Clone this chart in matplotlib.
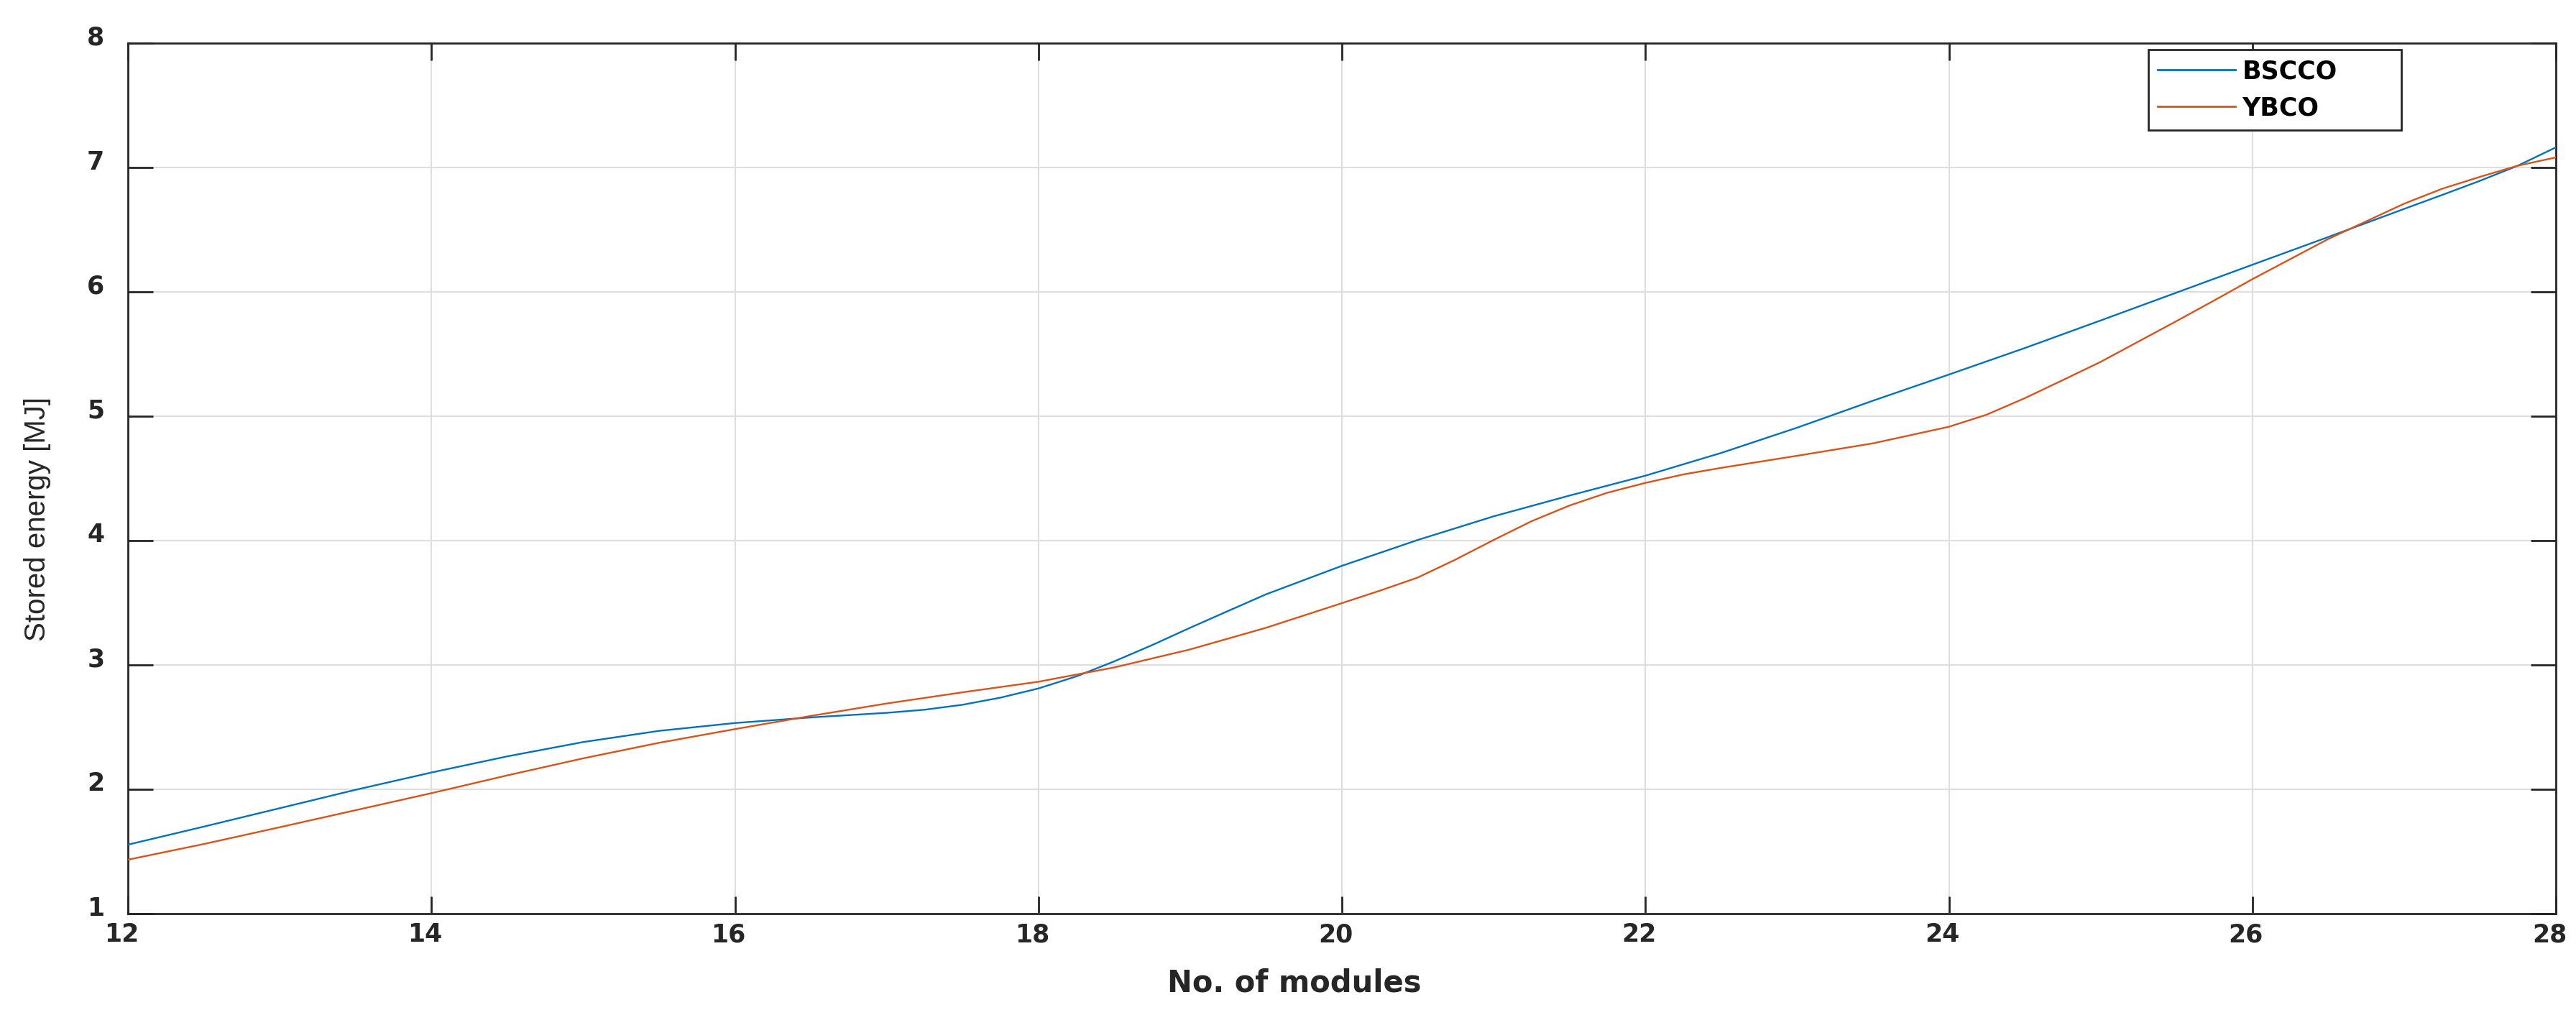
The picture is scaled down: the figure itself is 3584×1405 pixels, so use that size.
import matplotlib
matplotlib.use("Agg")
import matplotlib.pyplot as plt
from matplotlib import font_manager
from matplotlib.transforms import ScaledTranslation

# ---- data ----
modules_b = [12, 12.5, 13, 13.5, 14, 14.5, 15, 15.5, 16, 16.5, 17, 17.25, 17.5,
             17.75, 18, 18.25, 18.5, 18.75, 19, 19.25, 19.5, 20, 20.5, 21, 21.5,
             22, 22.5, 23, 23.5, 24, 24.5, 25, 25.5, 26, 26.5, 27, 27.25, 27.5,
             27.75, 28]
bscco = [1.555, 1.70, 1.848, 1.996, 2.135, 2.265, 2.38, 2.47, 2.533, 2.578,
         2.615, 2.64, 2.68, 2.737, 2.811, 2.908, 3.029, 3.16, 3.299, 3.434,
         3.568, 3.797, 4.005, 4.195, 4.362, 4.522, 4.705, 4.908, 5.125, 5.335,
         5.548, 5.77, 5.994, 6.218, 6.441, 6.667, 6.779, 6.893, 7.015, 7.162]
modules_y = [12, 12.5, 13, 13.5, 14, 14.5, 15, 15.5, 16, 16.5, 17, 17.5, 18,
             18.5, 19, 19.5, 20, 20.25, 20.5, 20.75, 21, 21.25, 21.5, 21.75, 22,
             22.25, 22.5, 23, 23.5, 24, 24.25, 24.5, 24.75, 25, 25.25, 25.5,
             25.75, 26, 26.5, 27, 27.25, 27.5, 27.75, 28]
ybco = [1.434, 1.56, 1.695, 1.832, 1.969, 2.112, 2.249, 2.374, 2.484, 2.59,
        2.69, 2.78, 2.865, 2.98, 3.125, 3.299, 3.497, 3.597, 3.703, 3.848,
        4.005, 4.156, 4.282, 4.385, 4.464, 4.532, 4.585, 4.682, 4.782, 4.915,
        5.013, 5.145, 5.29, 5.437, 5.601, 5.765, 5.932, 6.102, 6.425, 6.709,
        6.829, 6.925, 7.015, 7.081]
series_names = ["BSCCO", "YBCO"]
xticks = [12, 14, 16, 18, 20, 22, 24, 26, 28]
yticks = [1, 2, 3, 4, 5, 6, 7, 8]
xlabel_text = "No. of modules"
ylabel_text = "Stored energy [MJ]"

W, H, DPI = 3584, 1405, 100
fig = plt.figure(figsize=(W / DPI, H / DPI), dpi=DPI)
L, R, T, B = 178, 3556, 60, 1271
ax = fig.add_axes([L / W, (H - B) / H, (R - L) / W, (B - T) / H])

dark = "#262626"
ax.plot(modules_b, bscco, color="#0072BD", lw=1.7, label=series_names[0], zorder=3)
ax.plot(modules_y, ybco, color="#D95319", lw=1.7, label=series_names[1], zorder=3)

ax.set_xlim(12, 28)
ax.set_ylim(1, 8)
ax.set_xticks(xticks)
ax.set_yticks(yticks)
ax.grid(True, color="#dedede", lw=1.5, zorder=0)
ax.set_axisbelow(True)

for s in ax.spines.values():
    s.set_color(dark)
    s.set_linewidth(2)

ax.tick_params(axis="both", direction="in", colors=dark, width=2,
               top=True, right=True, labelsize=25)
ax.tick_params(axis="x", length=17.3, pad=9)
ax.tick_params(axis="y", length=25.2, pad=23.5)
for lab in ax.get_xticklabels() + ax.get_yticklabels():
    lab.set_fontfamily("DejaVu Sans")
    lab.set_fontweight("bold")
    lab.set_color(dark)
for lab in ax.get_xticklabels():
    lab.set_transform(lab.get_transform() + ScaledTranslation(-9 / DPI, 0, fig.dpi_scale_trans))
for lab in ax.get_yticklabels():
    lab.set_transform(lab.get_transform() + ScaledTranslation(0, 11 / DPI, fig.dpi_scale_trans))

ax.set_xlabel(xlabel_text, fontfamily="DejaVu Sans", fontweight="bold",
              fontsize=30, color=dark, va="baseline", ha="center")
ax.xaxis.set_label_coords((1801 - L) / (R - L), (B - 1380) / (B - T))

names = {f.name for f in font_manager.fontManager.ttflist}
if "Liberation Sans Narrow" in names:
    yfam, ysize = "Liberation Sans Narrow", 35
else:
    yfam, ysize = "Liberation Sans", 29
ax.set_ylabel(ylabel_text, fontfamily=yfam, fontsize=ysize, color=dark,
              va="center", ha="center")
ax.yaxis.set_label_coords((52 - L) / (R - L), (B - 722) / (B - T))

x0 = (2989 - L) / (R - L)
x1 = (3341 - L) / (R - L)
ytop = (B - 69) / (B - T)
leg = ax.legend(loc="upper left", bbox_to_anchor=(x0, ytop - 0.09, x1 - x0, 0.09),
                mode="expand", borderaxespad=0, fancybox=False, framealpha=1,
                edgecolor=dark, prop=dict(family="DejaVu Sans", weight="bold", size=25),
                handlelength=3.1, handletextpad=0.28, labelspacing=0.5,
                borderpad=0.38)
leg.get_frame().set_linewidth(2)
for h in leg.get_lines():
    h.set_linewidth(2)
for t in leg.get_texts():
    t.set_color("black")
leg.set_zorder(5)

fig.savefig("out.png", dpi=DPI, facecolor="white")
